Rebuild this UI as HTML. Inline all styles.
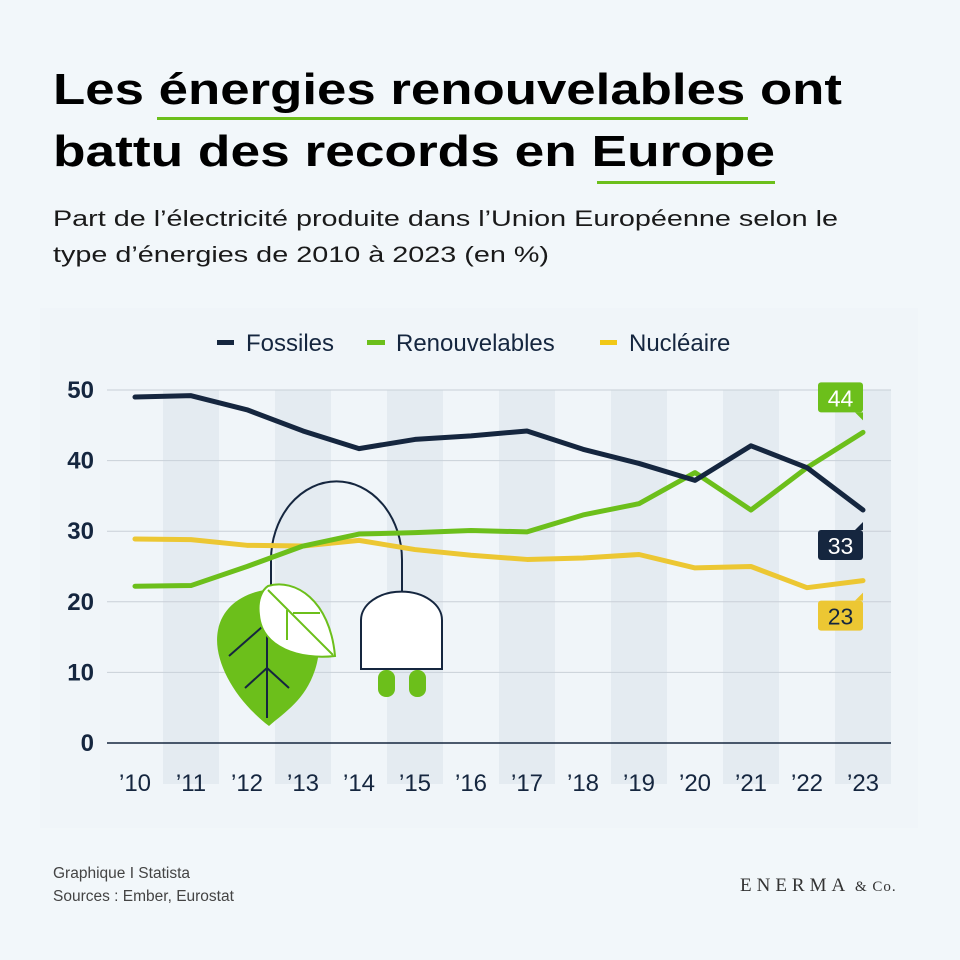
<!DOCTYPE html>
<html><head><meta charset="utf-8"><style>
body{margin:0;background:#f2f7fa;}
svg{display:block;font-family:"Liberation Sans",sans-serif;}
</style></head><body>
<svg width="960" height="960" viewBox="0 0 960 960">
<rect x="0" y="0" width="960" height="960" fill="#f2f7fa"/>
<text x="53" y="104" font-size="44" font-weight="bold" fill="#000" textLength="789" lengthAdjust="spacingAndGlyphs">Les énergies renouvelables ont</text>
<text x="53" y="166" font-size="44" font-weight="bold" fill="#000" textLength="722" lengthAdjust="spacingAndGlyphs">battu des records en Europe</text>
<rect x="157" y="117" width="591" height="3" fill="#6cbf1b"/>
<rect x="597" y="181" width="178" height="3" fill="#6cbf1b"/>
<text x="53" y="226" font-size="22" fill="#1a1a1a" textLength="785" lengthAdjust="spacingAndGlyphs">Part de l’électricité produite dans l’Union Européenne selon le</text>
<text x="53" y="262" font-size="22" fill="#1a1a1a" textLength="496" lengthAdjust="spacingAndGlyphs">type d’énergies de 2010 à 2023 (en %)</text>
<rect x="40" y="308" width="878" height="520" fill="#f0f5f9"/>
<g id="bands"></g>
<g id="grid"></g>
<g>
<rect x="217" y="340" width="17" height="5" fill="#15263f"/>
<text x="246" y="351" font-size="24" fill="#15263f">Fossiles</text>
<rect x="367" y="340" width="18" height="5" fill="#6cbf1b"/>
<text x="396" y="351" font-size="24" fill="#15263f">Renouvelables</text>
<rect x="600" y="340" width="17" height="5" fill="#f1c817"/>
<text x="629" y="351" font-size="24" fill="#15263f">Nucléaire</text>
</g>
<g>
<path d="M271 592 V560 A65 78 0 0 1 402 560 V592" fill="none" stroke="#15263f" stroke-width="2"/>
<path d="M361 669 V620 A40 28 0 0 1 442 620 V669 Z" fill="#fff" stroke="#15263f" stroke-width="2"/>
<rect x="378" y="670" width="17" height="27" rx="8" fill="#6cbf1b"/>
<rect x="409" y="670" width="17" height="27" rx="8" fill="#6cbf1b"/>
<path d="M269 726 C235 700 212 660 218 630 C224 598 260 585 290 590 C318 596 325 640 315 670 C305 700 285 712 269 726 Z" fill="#6cbf1b"/>
<path d="M267 718 V630 M229 656 L262 627 M245 688 L267 668 L289 688" fill="none" stroke="#15263f" stroke-width="2"/>
<path d="M268 586 C295 578 330 600 335 656 C300 660 262 648 259 615 C257 600 262 590 268 586 Z" fill="#fff" stroke="#6cbf1b" stroke-width="2"/>
<path d="M268 590 L333 655 M287 610 V640 M293 613 H320" fill="none" stroke="#6cbf1b" stroke-width="2"/>
</g>
<g id="lines"></g>
<g id="labels"></g>
<g id="callouts"></g>
<text x="53" y="878" font-size="15.5" fill="#444">Graphique I Statista</text>
<text x="53" y="901" font-size="15.5" fill="#444">Sources : Ember, Eurostat</text>
<text x="740" y="891" font-family="Liberation Serif, serif" font-size="19" fill="#333" letter-spacing="5">ENERMA<tspan font-size="15" letter-spacing="1"> &amp; Co.</tspan></text>
</svg>
<script>
const years = ["’10","’11","’12","’13","’14","’15","’16","’17","’18","’19","’20","’21","’22","’23"];
const fossiles = [49,49.2,47.2,44.2,41.7,43,43.5,44.2,41.6,39.6,37.2,42.1,39,33];
const renouvelables = [22.2,22.3,25,27.9,29.6,29.8,30.1,29.9,32.3,33.9,38.3,33,39,44];
const nucleaire = [28.9,28.8,28,27.9,28.7,27.4,26.6,26,26.2,26.7,24.8,25,22,23];
const yTicks = [0,10,20,30,40,50];
const NS="http://www.w3.org/2000/svg";
const x0=135, step=56, yBase=743, yPer=7.06;
const xs=i=>x0+i*step, ys=v=>yBase-v*yPer;
function mk(tag,attrs,parent){const e=document.createElementNS(NS,tag);for(const k in attrs)e.setAttribute(k,attrs[k]);document.getElementById(parent).appendChild(e);return e;}
years.forEach((y,i)=>{
  if(i%2===1){const b=mk('rect',{x:xs(i)-28,y:390,width:56,height:394,fill:'#e4ebf1'},'bands');
  
  }
  const t=mk('text',{x:xs(i),y:791,'font-size':24,'text-anchor':'middle',fill:'#15263f'},'labels');t.textContent=y;
  
  
});
yTicks.forEach(v=>{
  const l=mk('line',{x1:107,x2:891,y1:ys(v),y2:ys(v),stroke:v===0?'#15263f':'#c9d0d8','stroke-width':v===0?1.5:1},'grid');
  
  
  const t=mk('text',{x:94,y:ys(v)+8,'font-size':24,'font-weight':'bold','text-anchor':'end',fill:'#15263f'},'labels');t.textContent=v;
  
  
});
function series(arr,color,name){
  const p=mk('polyline',{points:arr.map((v,i)=>xs(i)+','+ys(v)).join(' '),fill:'none',stroke:color,'stroke-width':5,'stroke-linejoin':'round','stroke-linecap':'round'},'lines');
  
  
}
series(nucleaire,'#ecc733','line-nucleaire');
series(renouvelables,'#6cbf1b','line-renouvelables');
series(fossiles,'#15263f','line-fossiles');
function callout(v,color,textColor,above,name){
  const n=years.length-1, px=xs(n), py=ys(v);
  const bx=px-45;
  let by, ptr;
  if(above){by=py-50;ptr=`M${px-8} ${by+30} L${px} ${by+30} L${px} ${by+38} Z`;}
  else{by=py+20;ptr=`M${px} ${by-8} L${px} ${by} L${px-8} ${by} Z`;}
  const r=mk('rect',{x:bx,y:by,width:45,height:30,rx:3,fill:color},'callouts');
  
  
  const pp=mk('path',{d:ptr,fill:color},'callouts');
  
  
  const t=mk('text',{x:bx+22.5,y:by+24,'font-size':23,'text-anchor':'middle',fill:textColor},'callouts');
  t.textContent=Math.round(v);
  
  
}
callout(renouvelables[13],'#6cbf1b','#fff',true,'callout-renouvelables');
callout(fossiles[13],'#15263f','#fff',false,'callout-fossiles');
callout(nucleaire[13],'#ecc733','#15263f',false,'callout-nucleaire');
</script>
</body></html>
